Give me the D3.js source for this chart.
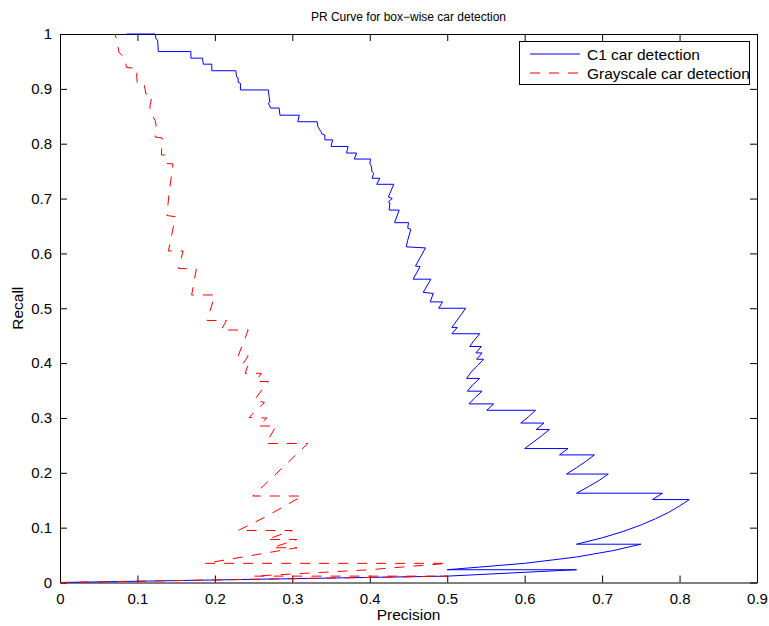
<!DOCTYPE html>
<html><head><meta charset="utf-8">
<script src="https://cdn.jsdelivr.net/npm/d3@7"></script>
<style>
body{margin:0;background:#fff}
text{font-family:"Liberation Sans",Arial,Helvetica,sans-serif;fill:#000}
</style>
</head><body>
<svg id="chart" width="769" height="626"></svg>
<script>
const titleText = "PR Curve for box\u2212wise car detection";
const xLabelText = "Precision";
const yLabelText = "Recall";
const xTicks = [0,0.1,0.2,0.3,0.4,0.5,0.6,0.7,0.8,0.9];
const xTickLabels = ["0","0.1","0.2","0.3","0.4","0.5","0.6","0.7","0.8","0.9"];
const yTicks = [0,0.1,0.2,0.3,0.4,0.5,0.6,0.7,0.8,0.9,1];
const yTickLabels = ["0","0.1","0.2","0.3","0.4","0.5","0.6","0.7","0.8","0.9","1"];
const seriesNames = ["C1 car detection","Grayscale car detection"];
const seriesColors = ["#0000ff","#ff0000"];

const c1Precision = [0,0.5,0.667,0.5,0.6,0.667,0.714,0.75,0.667,0.7,0.727,0.75,0.769,0.786,0.8,0.8125,0.765,0.778,0.667,0.682,0.696,0.708,0.654,0.667,0.679,0.69,0.645,0.656,0.6,0.611,0.622,0.632,0.615,0.625,0.595,0.605,0.614,0.551,0.56,0.528,0.536,0.545,0.526,0.533,0.542,0.525,0.531,0.539,0.547,0.538,0.545,0.537,0.544,0.529,0.535,0.542,0.506,0.513,0.506,0.512,0.518,0.524,0.489,0.494,0.478,0.482,0.469,0.479,0.456,0.465,0.459,0.472,0.447,0.449,0.453,0.449,0.450,0.432,0.438,0.425,0.426,0.424,0.429,0.424,0.431,0.409,0.413,0.403,0.405,0.403,0.402,0.400,0.401,0.380,0.383,0.370,0.372,0.350,0.352,0.342,0.342,0.338,0.337,0.333,0.332,0.307,0.309,0.284,0.283,0.272,0.269,0.271,0.270,0.269,0.233,0.233,0.230,0.230,0.228,0.227,0.196,0.196,0.185,0.184,0.169,0.169,0.127,0.126,0.124,0.123,0.086];
const c1Recall = [0,0.0116,0.0233,0.0233,0.0349,0.0465,0.0581,0.0698,0.0698,0.0814,0.093,0.1047,0.1163,0.1279,0.1395,0.1512,0.1512,0.1628,0.1628,0.1744,0.186,0.1977,0.1977,0.2093,0.2209,0.2326,0.2326,0.2442,0.2442,0.2558,0.2674,0.279,0.279,0.2907,0.2907,0.3023,0.314,0.314,0.3256,0.3256,0.3372,0.3488,0.3488,0.3605,0.3721,0.3721,0.3837,0.3953,0.407,0.407,0.4186,0.4186,0.4302,0.4302,0.4419,0.4535,0.4535,0.4651,0.4651,0.4767,0.4884,0.5,0.5,0.5116,0.5116,0.527,0.529,0.553,0.553,0.576,0.577,0.610,0.612,0.624,0.644,0.646,0.656,0.656,0.679,0.679,0.692,0.694,0.700,0.703,0.726,0.726,0.737,0.737,0.746,0.749,0.759,0.764,0.772,0.772,0.783,0.783,0.795,0.795,0.807,0.807,0.816,0.818,0.822,0.831,0.840,0.840,0.852,0.852,0.865,0.865,0.874,0.876,0.886,0.898,0.898,0.910,0.912,0.920,0.922,0.933,0.933,0.945,0.945,0.956,0.956,0.968,0.968,0.989,0.991,1.0,1.0];

const grayPrecision = [0,0.5,0.25,0.4,0.5,0.1875,0.306,0.274,0.306,0.267,0.300,0.230,0.265,0.313,0.249,0.320,0.266,0.279,0.256,0.267,0.244,0.264,0.251,0.269,0.253,0.260,0.239,0.243,0.235,0.243,0.230,0.243,0.208,0.215,0.190,0.200,0.170,0.176,0.153,0.159,0.140,0.149,0.138,0.141,0.146,0.138,0.136,0.131,0.131,0.132,0.132,0.123,0.124,0.123,0.118,0.116,0.118,0.118,0.111,0.109,0.100,0.099,0.100,0.086,0.083,0.076,0.074,0.071];
const grayRecall = [0,0.0116,0.0116,0.0233,0.0349,0.0349,0.0634,0.0634,0.0784,0.0784,0.0948,0.0948,0.1194,0.1577,0.1577,0.2534,0.2534,0.2853,0.2853,0.2999,0.3008,0.3282,0.3327,0.3665,0.3665,0.3814,0.3814,0.3965,0.3965,0.4129,0.4129,0.4603,0.4603,0.4777,0.4777,0.5242,0.5242,0.5716,0.5725,0.6044,0.6044,0.6669,0.6691,0.7119,0.7630,0.7639,0.7794,0.7794,0.7849,0.7995,0.8104,0.8122,0.8341,0.8423,0.8542,0.8669,0.8815,0.8897,0.8906,0.9061,0.9070,0.9234,0.9371,0.9389,0.9562,0.9672,0.9854,1.0];

const svg = d3.select("#chart");
const L = 60, R = 757, T = 34, B = 582.5;
const x = d3.scaleLinear().domain([0,0.9]).range([L,R]);
const y = d3.scaleLinear().domain([0,1]).range([B,T]);
const tickLen = 7;
const tickFont = "15px";
const labelFont = "15.5px";

svg.append("rect").attr("x",L).attr("y",T).attr("width",R-L).attr("height",B-T).attr("fill","#fff");

const fmtX = (d,i)=>xTickLabels[i];
const fmtY = (d,i)=>yTickLabels[i];

function styleAxis(g){
  g.selectAll("path.domain").attr("stroke","#000").attr("stroke-width",1);
  g.selectAll(".tick line").attr("stroke","#000").attr("stroke-width",1);
  g.selectAll("text").attr("font-size",tickFont).attr("font-family","Liberation Sans, Arial, sans-serif").attr("fill","#000");
}

const gx = svg.append("g").attr("transform",`translate(0,${B})`)
  .call(d3.axisBottom(x).tickValues(xTicks).tickFormat(fmtX).tickSizeInner(-tickLen).tickSizeOuter(0).tickPadding(11));
styleAxis(gx);
const gxt = svg.append("g").attr("transform",`translate(0,${T})`)
  .call(d3.axisTop(x).tickValues(xTicks).tickFormat("").tickSizeInner(-tickLen).tickSizeOuter(0));
styleAxis(gxt);
const gy = svg.append("g").attr("transform",`translate(${L},0)`)
  .call(d3.axisLeft(y).tickValues(yTicks).tickFormat(fmtY).tickSizeInner(-tickLen).tickSizeOuter(0).tickPadding(8));
styleAxis(gy);
const gyr = svg.append("g").attr("transform",`translate(${R},0)`)
  .call(d3.axisRight(y).tickValues(yTicks).tickFormat("").tickSizeInner(-tickLen).tickSizeOuter(0));
styleAxis(gyr);

const line = d3.line().x(d=>x(d[0])).y(d=>y(d[1]));
const c1Data = c1Precision.map((p,i)=>[p,c1Recall[i]]);
const grayData = grayPrecision.map((p,i)=>[p,grayRecall[i]]);

svg.append("path").datum(c1Data).attr("d",line)
  .attr("fill","none").attr("stroke",seriesColors[0]).attr("stroke-width",1);
svg.append("path").datum(grayData).attr("d",line)
  .attr("fill","none").attr("stroke",seriesColors[1]).attr("stroke-width",1).attr("stroke-dasharray","10,9");

svg.append("text").attr("x",(L+R)/2).attr("y",21).attr("text-anchor","middle").attr("font-size","12px").text(titleText);
svg.append("text").attr("x",(L+R)/2).attr("y",620).attr("text-anchor","middle").attr("font-size",labelFont).text(xLabelText);
svg.append("text").attr("transform",`translate(23,${(T+B)/2}) rotate(-90)`).attr("text-anchor","middle").attr("font-size",labelFont).text(yLabelText);

const lg = svg.append("g");
lg.append("rect").attr("x",519.5).attr("y",41.5).attr("width",230).attr("height",43)
  .attr("fill","#fff").attr("stroke","#000").attr("stroke-width",1);
const legY = [54,73];
seriesNames.forEach((name,i)=>{
  const ln = lg.append("line").attr("x1",530).attr("x2",580).attr("y1",legY[i]).attr("y2",legY[i])
    .attr("stroke",seriesColors[i]).attr("stroke-width",1);
  if(i===1) ln.attr("stroke-dasharray","10,9");
  lg.append("text").attr("x",587).attr("y",legY[i]+5.5).attr("font-size",labelFont).text(name);
});
</script>
</body></html>
